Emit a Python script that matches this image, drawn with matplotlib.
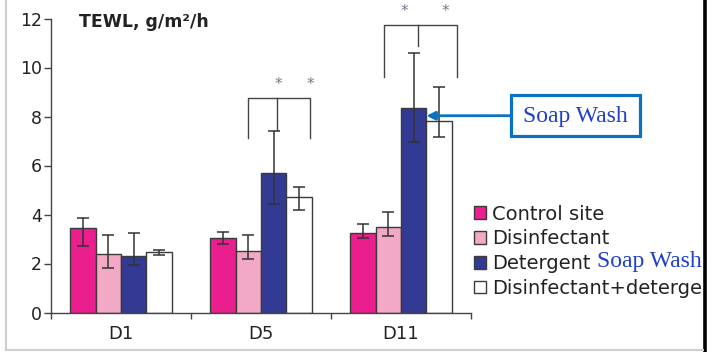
import matplotlib
matplotlib.use("Agg")
import matplotlib.pyplot as plt
from matplotlib.patches import Rectangle, Patch
from matplotlib.lines import Line2D
import numpy as np

# ---------------- data ----------------
days = ["D1", "D5", "D11"]
series = ["Control site", "Disinfectant", "Detergent", "Disinfectant+detergent"]
control = [3.46, 3.03, 3.24]
control_hi = [3.86, 3.30, 3.62]
control_lo = [2.70, 2.78, 3.05]
disinfectant = [2.37, 2.52, 3.49]
disinfectant_hi = [3.18, 3.18, 4.10]
disinfectant_lo = [1.82, 2.18, 3.11]
detergent = [2.29, 5.69, 8.36]
detergent_hi = [3.26, 7.40, 10.60]
detergent_lo = [1.94, 4.42, 6.94]
dis_det = [2.48, 4.70, 7.83]
dis_det_hi = [2.56, 5.13, 9.19]
dis_det_lo = [2.33, 4.17, 7.18]
yticks = [0, 2, 4, 6, 8, 10, 12]

# significance brackets (x: left, middle, right ; y: top, leg bottoms)
bracket_x = [[1.405, 1.614, 1.848], [2.376, 2.624, 2.898]]
bracket_top = [8.77, 11.73]
bracket_leg = [7.11, 9.60]
bracket_mid = [7.45, 10.88]
star_x = [[1.621, 1.850], [2.524, 2.819]]
star_y = [9.42, 12.37]

colors = ["#EA1E8C", "#F2A9C5", "#333A94", "#FFFFFF"]
edge = "#3a3a3a"

# ---------------- figure ----------------
W, H = 718, 352
fig = plt.figure(figsize=(W / 100, H / 100), dpi=100)
fig.patch.set_facecolor("white")
ax = fig.add_axes([51 / W, (H - 312.5) / H, 420 / W, 294 / H])

x = np.arange(len(days)) + 0.5
bw = 0.182
vals = [control, disinfectant, detergent, dis_det]
his = [control_hi, disinfectant_hi, detergent_hi, dis_det_hi]
los = [control_lo, disinfectant_lo, detergent_lo, dis_det_lo]
for i, (v, hi, lo) in enumerate(zip(vals, his, los)):
    v = np.array(v); hi = np.array(hi); lo = np.array(lo)
    pos = x + (i - 1.5) * bw
    ax.bar(pos, v, width=bw, color=colors[i], edgecolor=edge, linewidth=1.0, zorder=2)
    ax.errorbar(pos, v, yerr=[v - lo, hi - v], fmt="none", ecolor="#333333",
                elinewidth=1.1, capsize=4, capthick=1.1, zorder=3)

# brackets and stars
for bx, bt, bl, bm, sx, sy in zip(bracket_x, bracket_top, bracket_leg, bracket_mid, star_x, star_y):
    kw = dict(color="#444444", lw=1.0, clip_on=False, zorder=4)
    ax.plot([bx[0], bx[0], bx[2], bx[2]], [bl, bt, bt, bl], **kw)
    ax.plot([bx[1], bx[1]], [bt, bm], **kw)
    for s in sx:
        ax.annotate("*", xy=(s, sy), xytext=(0, -5), textcoords="offset points",
                    ha="center", va="baseline", fontsize=11, color="#7a7388",
                    annotation_clip=False)

ax.set_xlim(0, 3)
ax.set_ylim(0, 12)
for sp in ["top", "right"]:
    ax.spines[sp].set_visible(False)
for sp in ["left", "bottom"]:
    ax.spines[sp].set_color("#444444")
    ax.spines[sp].set_linewidth(1.0)
ax.set_yticks(yticks)
ax.set_yticklabels([str(t) for t in yticks])
ax.tick_params(axis="y", direction="out", length=5, width=1.0, color="#444444",
               labelsize=12.5, labelcolor="#222222", pad=1.5)
ax.set_xticks([0, 1, 2, 3])
ax.set_xticklabels([])
ax.set_xticks(x, minor=True)
ax.set_xticklabels(days, minor=True)
ax.tick_params(axis="x", which="major", direction="out", length=4.5, width=1.0, color="#444444")
ax.tick_params(axis="x", which="minor", length=0, labelsize=13, labelcolor="#222222", pad=9)

ax.text(0.198, 11.85, "TEWL, g/m²/h", fontsize=12.5, fontweight="bold", color="#222222",
        ha="left", va="center")

# legend
handles = [Patch(facecolor=c, edgecolor=edge, linewidth=1.0) for c in colors]
leg = ax.legend(handles, series, loc="upper left", bbox_to_anchor=(474 / W, (H - 204.5) / H),
                bbox_transform=fig.transFigure, frameon=False, borderpad=0, borderaxespad=0,
                handlelength=0.62, handleheight=0.62, handletextpad=0.3, labelspacing=0.3,
                fontsize=14)
for t in leg.get_texts():
    t.set_color("#222222")

# Soap Wash annotations
blue_txt = "#1F3FC8"
box_c = "#0A72C2"
fig.text(597 / W, (H - 261) / H, "Soap Wash", family="Liberation Serif", fontsize=17,
         color=blue_txt, ha="left", va="center")
fig.add_artist(Rectangle((511 / W, (H - 136) / H), 129 / W, 41 / H, transform=fig.transFigure,
                         facecolor="white", edgecolor=box_c, linewidth=2.3, zorder=5))
fig.text(575 / W, (H - 116.5) / H, "Soap Wash", family="Liberation Serif", fontsize=17,
         color=blue_txt, ha="center", va="center", zorder=6)
ax.annotate("", xy=(2.682, 8.03), xycoords="data",
            xytext=(510 / W, (H - 115.7) / H), textcoords="figure fraction",
            arrowprops=dict(arrowstyle="-|>,head_length=0.5,head_width=0.25", color=box_c,
                            lw=2.0, shrinkA=0, shrinkB=0), annotation_clip=False, zorder=5)

# screenshot frame
fig.add_artist(Rectangle((703 / W, 0), 15 / W, 1, transform=fig.transFigure,
                         facecolor="white", edgecolor="none", zorder=10))
fig.add_artist(Line2D([704.8 / W, 704.8 / W], [0, 1], transform=fig.transFigure,
                      color="black", lw=2.6, zorder=11))
fig.add_artist(Line2D([5.5 / W, 5.5 / W], [(H - 350) / H, 1], transform=fig.transFigure,
                      color="#cfcfcf", lw=1.5, zorder=11))
fig.add_artist(Line2D([5.5 / W, 703 / W], [(H - 350) / H, (H - 350) / H],
                      transform=fig.transFigure, color="#cfcfcf", lw=1.5, zorder=11))

fig.savefig("out.png", dpi=100)
